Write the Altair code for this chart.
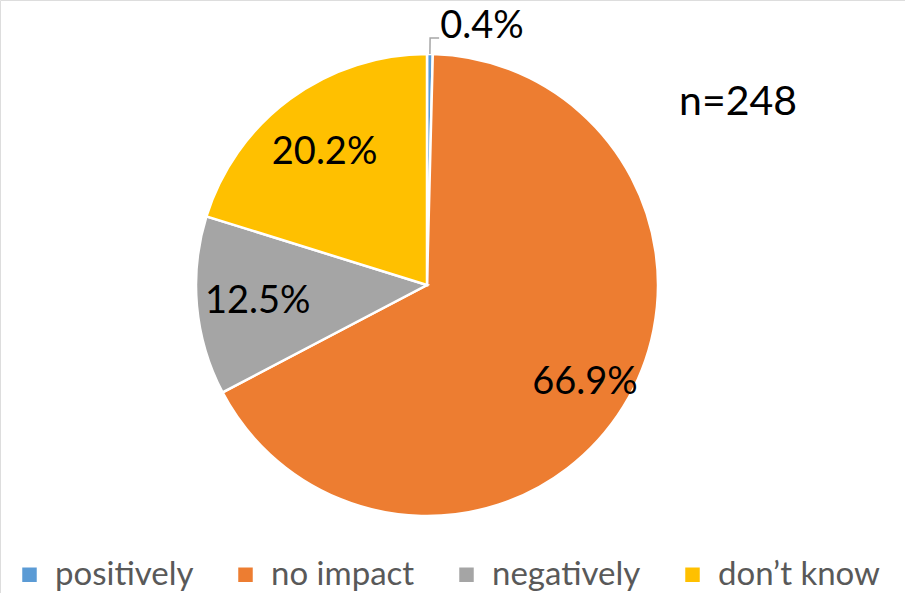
import math
import altair as alt
import pandas as pd

# Survey answers, share of respondents (%)
categories = ["positively", "no impact", "negatively", "don\u2019t know"]
shares = [0.4, 66.9, 12.5, 20.2]
colors = ["#5B9BD5", "#ED7D31", "#A5A5A5", "#FFC000"]
sample_note = "n=248"

FONT = "Lato"
CX, CY, R = 427, 285, 231

df = pd.DataFrame({
    "category": categories,
    "value": shares,
    "idx": list(range(len(categories))),
})
df["label"] = [f"{v:.1f}%" for v in df["value"]]

color = alt.Color(
    "category:N",
    scale=alt.Scale(domain=categories, range=colors),
    sort=categories,
    legend=alt.Legend(
        title=None,
        orient="none",
        direction="horizontal",
        legendX=13,
        legendY=558,
        symbolType="square",
        symbolSize=210,
        symbolStrokeWidth=0,
        labelFont=FONT,
        labelFontSize=33,
        labelColor="#595959",
        labelOffset=9,
        columnPadding=35,
        labelLimit=300,
    ),
)

theta = alt.Theta("value:Q", stack=True)
order = alt.Order("idx:Q")

base = alt.Chart(df).encode(theta=theta, order=order)

pie = base.mark_arc(outerRadius=R, stroke="white", strokeWidth=2.5).encode(
    color=color,
    x=alt.value(CX),
    y=alt.value(CY),
)


def slice_labels(expr, radius, **mark_kw):
    """Text at the middle of each slice; only rows matching expr get a label."""
    return base.transform_calculate(
        txt=f"({expr}) ? datum.label : ''"
    ).mark_text(font=FONT, fontSize=38, color="#000000", **mark_kw).encode(
        text="txt:N",
        x=alt.value(CX),
        y=alt.value(CY),
        radius=alt.value(radius),
    )


big = slice_labels("datum.value > 50", 186)
mid_labels = slice_labels("datum.value > 1 && datum.value <= 50", 166, dx=-4, dy=2)
outside = slice_labels("datum.value <= 1", 258, align="left", dx=10)

# leader line for the smallest slice, from its outer edge upward then right
mid = 2 * math.pi * (shares[0] / 2) / sum(shares)
lead = pd.DataFrame({
    "px": [CX + R * math.sin(mid), CX + 247 * math.sin(mid), CX + 247 * math.sin(mid) + 9],
    "py": [CY - R * math.cos(mid), CY - 247 * math.cos(mid), CY - 247 * math.cos(mid)],
    "k": [0, 1, 2],
})
leader = alt.Chart(lead).mark_line(color="#A6A6A6", strokeWidth=1.5).encode(
    x=alt.X("px:Q", scale=None),
    y=alt.Y("py:Q", scale=None),
    order="k:Q",
)

note = alt.Chart(pd.DataFrame({"t": [sample_note]})).mark_text(
    font=FONT, fontSize=41, color="#000000", align="left", baseline="middle"
).encode(text="t:N", x=alt.value(679), y=alt.value(103))

chart = alt.layer(pie, leader, big, mid_labels, outside, note).properties(
    width=905,
    height=593,
    autosize=alt.AutoSizeParams(type="none"),
    padding=0,
).configure_view(strokeWidth=0).configure(background="white")

chart.save("out.html", embed_options={"renderer": "svg", "actions": False})
